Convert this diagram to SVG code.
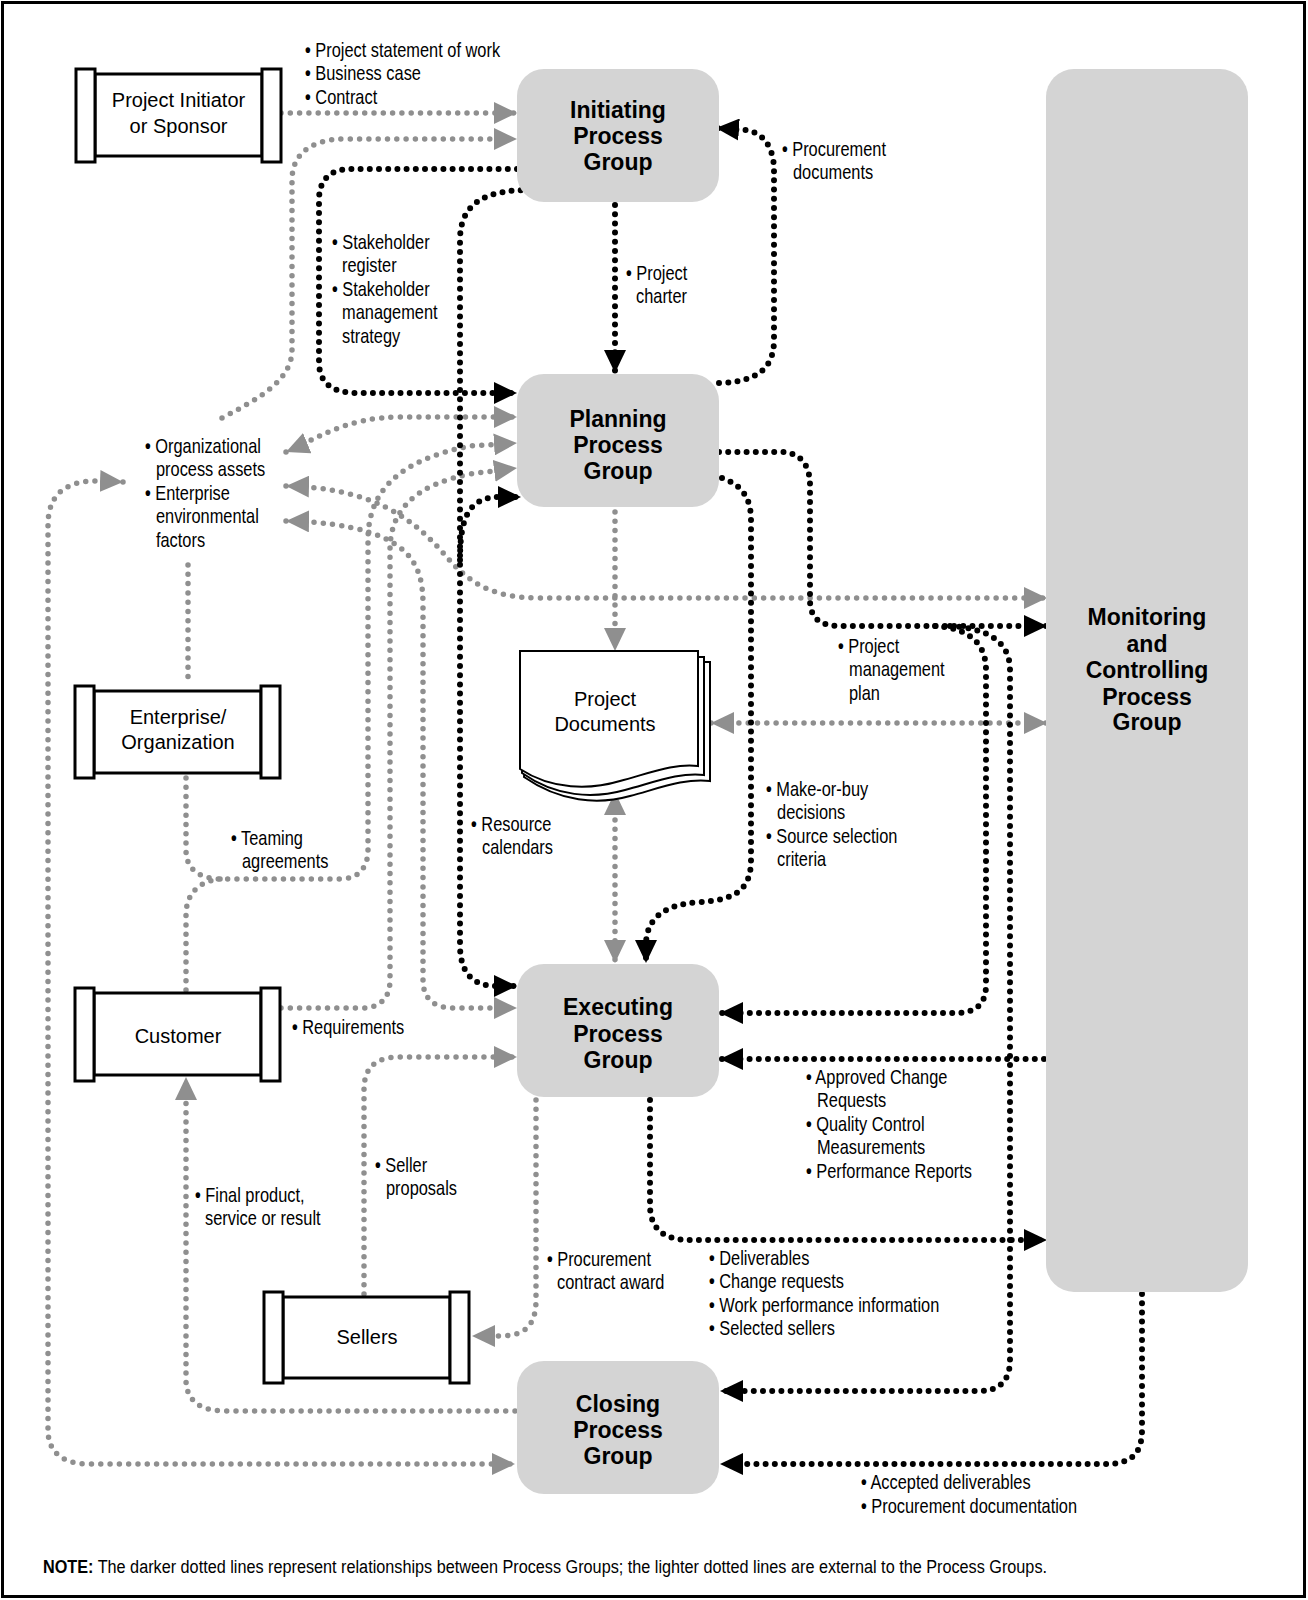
<svg xmlns="http://www.w3.org/2000/svg" width="1308" height="1600" viewBox="0 0 1308 1600">
<style>
.dk{fill:none;stroke:#000;stroke-width:6;stroke-linecap:round;stroke-dasharray:0 9.2}
.lt{fill:none;stroke:#8f8f8f;stroke-width:5.5;stroke-linecap:round;stroke-dasharray:0 9.3}
.pg{fill:#d4d4d4;stroke:none}
.ent{fill:#fff;stroke:#000;stroke-width:3}
.doc{fill:#fff;stroke:#000;stroke-width:2}
.t{font-family:"Liberation Sans",Arial,sans-serif;font-size:20px;fill:#000;text-anchor:middle}
.tb{font-family:"Liberation Sans",Arial,sans-serif;font-size:23px;font-weight:bold;fill:#000;text-anchor:middle}
.lb{font-family:"Liberation Sans",Arial,sans-serif;font-size:20px;fill:#000}
.bu{font-weight:bold}
</style>
<defs>
<marker id="ab" viewBox="0 0 23 22" refX="23" refY="11" markerWidth="23" markerHeight="22" markerUnits="userSpaceOnUse" orient="auto-start-reverse"><path d="M0,0 L23,11 L0,22 Z" fill="#000"/></marker>
<marker id="ag" viewBox="0 0 23 22" refX="23" refY="11" markerWidth="23" markerHeight="22" markerUnits="userSpaceOnUse" orient="auto-start-reverse"><path d="M0,0 L23,11 L0,22 Z" fill="#8f8f8f"/></marker>
</defs>
<rect x="0" y="0" width="1308" height="1600" fill="#fff"/>
<rect x="2.5" y="2.5" width="1302" height="1594" fill="none" stroke="#000" stroke-width="3"/>

<g id="connectors">
<!-- light (external) -->
<path class="lt" d="M281,113 L517,113" marker-end="url(#ag)"/>
<path class="lt" d="M222,418 C260,398 292,380 292,350 L292,180 C292,155 310,139 345,139 L517,139" marker-end="url(#ag)"/>
<path class="lt" d="M286,452 C315,440 345,417 400,417 L517,417" marker-start="url(#ag)" marker-end="url(#ag)"/>
<path class="lt" d="M186,778 L186,850 C186,870 200,879 222,879 L340,879 C358,879 368,868 368,850 L368,540 C368,490 400,460 470,446 L517,443" marker-end="url(#ag)"/>
<path class="lt" d="M186,990 L186,915 C186,893 200,880 222,879"/>
<path class="lt" d="M281,1008 L362,1008 C380,1008 390,998 390,980 L390,550 C390,510 415,485 470,474 L517,468" marker-end="url(#ag)"/>
<path class="lt" d="M286,486 C370,488 410,515 445,555 C470,585 495,598 540,598 L1047,598" marker-start="url(#ag)" marker-end="url(#ag)"/>
<path class="lt" d="M286,521 C350,522 395,535 412,560 C420,572 423,585 423,605 L423,980 C423,1000 435,1008 455,1008 L517,1008" marker-start="url(#ag)" marker-end="url(#ag)"/>
<path class="lt" d="M188,565 L188,683"/>
<path class="lt" d="M123,482 L100,481 C65,480 48,495 48,525 L48,1430 C48,1452 62,1464 90,1464 L515,1464" marker-start="url(#ag)" marker-end="url(#ag)"/>
<path class="lt" d="M515,1411 L225,1411 C200,1411 186,1400 186,1380 L186,1077" marker-end="url(#ag)"/>
<path class="lt" d="M364,1294 L364,1090 C364,1068 375,1057 400,1057 L517,1057" marker-end="url(#ag)"/>
<path class="lt" d="M536,1100 L536,1300 C536,1325 525,1336 500,1336 L472,1336" marker-end="url(#ag)"/>
<path class="lt" d="M615,512 L615,651" marker-end="url(#ag)"/>
<path class="lt" d="M615,792 L615,963" marker-start="url(#ag)" marker-end="url(#ag)"/>
<path class="lt" d="M711,723 L1047,723" marker-start="url(#ag)" marker-end="url(#ag)"/>
<!-- dark (between process groups) -->
<path class="dk" d="M517,169 L350,169 C330,169 319,180 319,200 L319,362 C319,385 335,393 357,393 L517,393" marker-end="url(#ab)"/>
<path class="dk" d="M530,190 C490,190 460,200 460,240 L460,945 C460,975 475,986 495,986 L517,986" marker-end="url(#ab)"/>
<path class="dk" d="M460,560 C460,515 470,497 500,497 L521,497" marker-end="url(#ab)"/>
<path class="dk" d="M615,205 L615,373" marker-end="url(#ab)"/>
<path class="dk" d="M719,383 C755,382 774,370 774,340 L774,170 C774,150 765,132 745,130 L716,128" marker-end="url(#ab)"/>
<path class="dk" d="M719,452 L781,452 C800,452 810,465 810,485 L810,600 C810,618 820,626 840,626 L1047,626" marker-end="url(#ab)"/>
<path class="dk" d="M935,626 C965,628 986,640 986,670 L986,985 C986,1005 975,1013 955,1013 L720,1013" marker-end="url(#ab)"/>
<path class="dk" d="M950,626 C985,628 1010,640 1010,670 L1010,1360 C1010,1380 1000,1391 980,1391 L720,1391" marker-end="url(#ab)"/>
<path class="dk" d="M722,478 C742,485 751,498 751,520 L751,860 C751,890 735,900 700,902 C665,904 646,918 646,945 L646,963" marker-end="url(#ab)"/>
<path class="dk" d="M1044,1059 L720,1059" marker-end="url(#ab)"/>
<path class="dk" d="M650,1100 L650,1205 C650,1230 665,1240 690,1240 L1047,1240" marker-end="url(#ab)"/>
<path class="dk" d="M1142,1294 L1142,1430 C1142,1455 1130,1464 1105,1464 L720,1464" marker-end="url(#ab)"/>
</g>

<g id="initiating">
<rect class="pg" x="517" y="69" width="202" height="133" rx="27"/>
<text class="tb" x="618" y="118">Initiating</text>
<text class="tb" x="618" y="144">Process</text>
<text class="tb" x="618" y="170">Group</text>
</g>
<g id="planning">
<rect class="pg" x="517" y="374" width="202" height="133" rx="27"/>
<text class="tb" x="618" y="427">Planning</text>
<text class="tb" x="618" y="453">Process</text>
<text class="tb" x="618" y="479">Group</text>
</g>
<g id="executing">
<rect class="pg" x="517" y="964" width="202" height="133" rx="27"/>
<text class="tb" x="618" y="1015">Executing</text>
<text class="tb" x="618" y="1042">Process</text>
<text class="tb" x="618" y="1068">Group</text>
</g>
<g id="closing">
<rect class="pg" x="517" y="1361" width="202" height="133" rx="27"/>
<text class="tb" x="618" y="1412">Closing</text>
<text class="tb" x="618" y="1438">Process</text>
<text class="tb" x="618" y="1464">Group</text>
</g>
<g id="monitoring">
<rect class="pg" x="1046" y="69" width="202" height="1223" rx="28"/>
<text class="tb" x="1147" y="625">Monitoring</text>
<text class="tb" x="1147" y="652">and</text>
<text class="tb" x="1147" y="678">Controlling</text>
<text class="tb" x="1147" y="705">Process</text>
<text class="tb" x="1147" y="730">Group</text>
</g>

<g id="sponsor">
<rect class="ent" x="95" y="74" width="167" height="82"/>
<rect class="ent" x="76" y="69" width="19" height="93"/>
<rect class="ent" x="262" y="69" width="19" height="93"/>
<text class="t" x="178.5" y="107">Project Initiator</text>
<text class="t" x="178.5" y="133">or Sponsor</text>
</g>
<g id="enterprise">
<rect class="ent" x="94" y="691" width="167" height="82"/>
<rect class="ent" x="75" y="686" width="19" height="92"/>
<rect class="ent" x="261" y="686" width="19" height="92"/>
<text class="t" x="178" y="724">Enterprise/</text>
<text class="t" x="178" y="749">Organization</text>
</g>
<g id="customer">
<rect class="ent" x="94" y="993" width="167" height="82"/>
<rect class="ent" x="75" y="988" width="19" height="93"/>
<rect class="ent" x="261" y="988" width="19" height="93"/>
<text class="t" x="178" y="1043">Customer</text>
</g>
<g id="sellers">
<rect class="ent" x="283" y="1297" width="167" height="81"/>
<rect class="ent" x="264" y="1292" width="19" height="91"/>
<rect class="ent" x="450" y="1292" width="19" height="91"/>
<text class="t" x="367" y="1344">Sellers</text>
</g>
<g id="project-documents">
<path class="doc" d="M532,662 L710,662 L710,781 C685,778 660,788 630,796 C598,805 560,802 524,777 Z"/>
<path class="doc" d="M526,657 L704,657 L704,775 C680,772 655,782 625,790 C593,799 556,797 522,773 Z"/>
<path class="doc" d="M520,651 L698,651 L698,766 C675,763 650,773 620,781 C590,790 552,790 520,769 Z"/>
<text class="t" x="605" y="706">Project</text>
<text class="t" x="605" y="731">Documents</text>
</g>

<g id="connector-labels" transform="scale(0.82,1)">
<text class="lb" x="372" y="57"><tspan class="bu">•</tspan> Project statement of work</text>
<text class="lb" x="372" y="80"><tspan class="bu">•</tspan> Business case</text>
<text class="lb" x="372" y="104"><tspan class="bu">•</tspan> Contract</text>
<text class="lb" x="404.8" y="249"><tspan class="bu">•</tspan> Stakeholder</text>
<text class="lb" x="417.1" y="272.5">register</text>
<text class="lb" x="404.8" y="296"><tspan class="bu">•</tspan> Stakeholder</text>
<text class="lb" x="417.1" y="319.5">management</text>
<text class="lb" x="417.1" y="343">strategy</text>
<text class="lb" x="763.4" y="280"><tspan class="bu">•</tspan> Project</text>
<text class="lb" x="775.6" y="303.5">charter</text>
<text class="lb" x="953.6" y="156"><tspan class="bu">•</tspan> Procurement</text>
<text class="lb" x="967.1" y="179.5">documents</text>
<text class="lb" x="176.8" y="453"><tspan class="bu">•</tspan> Organizational</text>
<text class="lb" x="190.2" y="476.5">process assets</text>
<text class="lb" x="176.8" y="500"><tspan class="bu">•</tspan> Enterprise</text>
<text class="lb" x="190.2" y="523.5">environmental</text>
<text class="lb" x="190.2" y="547">factors</text>
<text class="lb" x="281.7" y="845"><tspan class="bu">•</tspan> Teaming</text>
<text class="lb" x="295.1" y="868">agreements</text>
<text class="lb" x="574.4" y="831"><tspan class="bu">•</tspan> Resource</text>
<text class="lb" x="587.8" y="854.5">calendars</text>
<text class="lb" x="1021.9" y="653"><tspan class="bu">•</tspan> Project</text>
<text class="lb" x="1035.4" y="676.5">management</text>
<text class="lb" x="1035.4" y="700">plan</text>
<text class="lb" x="934.1" y="796"><tspan class="bu">•</tspan> Make-or-buy</text>
<text class="lb" x="947.6" y="819.5">decisions</text>
<text class="lb" x="934.1" y="843"><tspan class="bu">•</tspan> Source selection</text>
<text class="lb" x="947.6" y="866.5">criteria</text>
<text class="lb" x="356.1" y="1034"><tspan class="bu">•</tspan> Requirements</text>
<text class="lb" x="457.3" y="1172"><tspan class="bu">•</tspan> Seller</text>
<text class="lb" x="470.7" y="1195.5">proposals</text>
<text class="lb" x="237.8" y="1202"><tspan class="bu">•</tspan> Final product,</text>
<text class="lb" x="250" y="1225.5">service or result</text>
<text class="lb" x="667" y="1266"><tspan class="bu">•</tspan> Procurement</text>
<text class="lb" x="679.3" y="1289.5">contract award</text>
<text class="lb" x="982.9" y="1084"><tspan class="bu">•</tspan> Approved Change</text>
<text class="lb" x="996.3" y="1107.5">Requests</text>
<text class="lb" x="982.9" y="1131"><tspan class="bu">•</tspan> Quality Control</text>
<text class="lb" x="996.3" y="1154.5">Measurements</text>
<text class="lb" x="982.9" y="1178"><tspan class="bu">•</tspan> Performance Reports</text>
<text class="lb" x="864.6" y="1265"><tspan class="bu">•</tspan> Deliverables</text>
<text class="lb" x="864.6" y="1288.5"><tspan class="bu">•</tspan> Change requests</text>
<text class="lb" x="864.6" y="1312"><tspan class="bu">•</tspan> Work performance information</text>
<text class="lb" x="864.6" y="1335.5"><tspan class="bu">•</tspan> Selected sellers</text>
<text class="lb" x="1050" y="1489"><tspan class="bu">•</tspan> Accepted deliverables</text>
<text class="lb" x="1050" y="1513"><tspan class="bu">•</tspan> Procurement documentation</text>
</g>
<g id="note">
<text class="lb" x="43" y="1573" style="font-size:18px" textLength="1004" lengthAdjust="spacingAndGlyphs"><tspan font-weight="bold">NOTE:</tspan> The darker dotted lines represent relationships between Process Groups; the lighter dotted lines are external to the Process Groups.</text>
</g>
</svg>
